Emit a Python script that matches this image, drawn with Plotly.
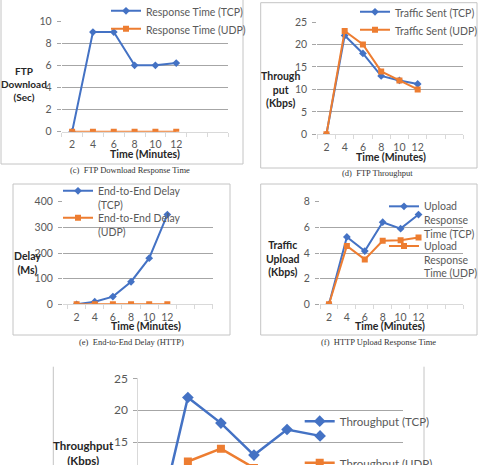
import plotly.graph_objects as go

W, H = 481, 465

# ---------------- data ----------------
minutes = [2, 4, 6, 8, 10, 12]
tick_labels = ["2", "4", "6", "8", "10", "12"]

ftp_resp_tcp = [0, 9, 9, 6, 6, 6.2]
ftp_resp_udp = [0, 0, 0, 0, 0, 0]
ftp_sent_tcp = [0, 22, 18, 13, 12, 11.2]
ftp_sent_udp = [0, 23, 20, 14, 12, 10]
delay_tcp = [0, 10, 30, 88, 180, 350]
delay_udp = [0, 0, 0, 0, 0, 0]
upload_tcp = [0, 5.25, 4.15, 6.4, 5.9, 7.0]
upload_udp = [0, 4.55, 3.5, 4.95, 5.0, 5.2]
thr_tcp = [0, 22, 18, 13, 17, 16]
thr_udp = [0, 12, 14, 11, 10, 10]

names = {
    "c": ["Response Time (TCP)", "Response Time (UDP)"],
    "d": ["Traffic Sent (TCP)", "Traffic Sent (UDP)"],
    "e": ["End-to-End Delay<br>(TCP)", "End-to-End Delay<br>(UDP)"],
    "f": ["Upload<br>Response<br>Time (TCP)", "Upload<br>Response<br>Time (UDP)"],
    "g": ["Throughput (TCP)", "Throughput (UDP)"],
}
captions = {
    "c": "(c)  FTP Download Response Time",
    "d": "(d)  FTP Throughput",
    "e": "(e)  End-to-End Delay (HTTP)",
    "f": "(f)  HTTP Upload Response Time",
}
ytitles = {
    "c": "FTP<br>Download<br>(Sec)",
    "d": "Through<br>put<br>(Kbps)",
    "e": "Delay<br>(Ms)",
    "f": "Traffic<br>Upload<br>(Kbps)",
    "g": "Throughput<br>(Kbps)",
}
xtitle = "Time (Minutes)"

# ---------------- style ----------------
BLUE = "#4472C4"
ORANGE = "#ED7D31"
GRID = "#a6a6a6"
AXLINE = "#d9d9d9"
TXT = "#595959"
TITLE = "#262626"
SANS = "Lato, Roboto, sans-serif"
SERIF = "Liberation Serif, Times New Roman, serif"


def fx(x):
    return x / W


def fy(y):
    return 1 - y / H


# panel geometry in pixels: (x0, x1, ytop, ybottom)
panels = [
    dict(k="c", box=(61.7, 228.3, 21, 131.7), xr=[1, 17], yr=[0, 10], dy=2,
         tcp=ftp_resp_tcp, udp=ftp_resp_udp),
    dict(k="d", box=(317.3, 463.3, 22, 134.3), xr=[1, 17], yr=[0, 25], dy=5,
         tcp=ftp_sent_tcp, udp=ftp_sent_udp),
    dict(k="e", box=(63, 212.7, 201.7, 304.3), xr=[0.5, 17], yr=[0, 400], dy=100,
         tcp=delay_tcp, udp=delay_udp),
    dict(k="f", box=(320, 463.3, 201.7, 304.3), xr=[1, 17], yr=[0, 8], dy=2,
         tcp=upload_tcp, udp=upload_udp),
    dict(k="g", box=(138.3, 402.7, 378.3, 465), xr=[1, 17], yr=[11.45, 25], dy=5,
         tcp=thr_tcp, udp=thr_udp),
]

# legend placement: (text start x, [centre y of each entry])
legend_pos = {
    "c": (148, [12, 30]),
    "d": (397, [13, 31]),
    "e": (100, [198, 225]),
    "f": (426, [220, 259.6]),
    "g": (341.7, [421.7, 463.3]),
}

fig = go.Figure()
layout = dict(
    width=W, height=H,
    margin=dict(l=0, r=0, t=0, b=0, autoexpand=False),
    paper_bgcolor="white", plot_bgcolor="white",
    showlegend=True,
    shapes=[], annotations=[],
)

leg_idx = 0
for i, p in enumerate(panels):
    k = p["k"]
    big = k == "g"
    xa = "x" if i == 0 else f"x{i+1}"
    ya = "y" if i == 0 else f"y{i+1}"
    xk = "xaxis" if i == 0 else f"xaxis{i+1}"
    yk = "yaxis" if i == 0 else f"yaxis{i+1}"
    x0, x1, yt, yb = p["box"]
    fs = 12 if big else 10.5
    lfs = 11.5 if big else 10.5
    lw = 2.5 if big else 2
    for j, (vals, col, sym) in enumerate(
        [(p["tcp"], BLUE, "diamond"), (p["udp"], ORANGE, "square")]
    ):
        leg_idx += 1
        lname = "legend" if leg_idx == 1 else f"legend{leg_idx}"
        fig.add_trace(go.Scatter(
            x=minutes, y=vals, name=names[k][j], mode="lines+markers",
            line=dict(color=col, width=lw),
            marker=dict(symbol=sym, size=(9 if big else 6) if sym == "diamond" else (8 if big else 6),
                        color=col),
            xaxis=xa, yaxis=ya, legend=lname, cliponaxis=True,
        ))
        tx, ys = legend_pos[k]
        layout[lname] = dict(
            x=fx(tx - 42), y=fy(ys[j]), xanchor="left", yanchor="middle",
            xref="paper", yref="paper",
            bgcolor="rgba(0,0,0,0)", borderwidth=0, valign="top",
            font=dict(family=SANS, size=lfs, color=TXT),
            itemwidth=30, tracegroupgap=0,
        )
    layout[xk] = dict(
        domain=[fx(x0), fx(x1)], range=p["xr"], anchor=ya,
        tickmode="array", tickvals=minutes, ticktext=tick_labels,
        ticks="", showgrid=False, zeroline=False,
        showline=not big, linecolor=AXLINE, linewidth=1,
        showticklabels=not big,
        minor=dict(tick0=1, dtick=2, ticks="" if big else "outside", ticklen=4,
                   tickcolor=AXLINE, showgrid=False),
        tickfont=dict(family=SANS, size=fs, color=TXT),
        ticklabelstandoff=3, fixedrange=True,
    )
    layout[yk] = dict(
        domain=[fy(yb), fy(yt)], range=p["yr"], anchor=xa,
        dtick=p["dy"], tick0=0, showgrid=True, gridcolor=GRID, gridwidth=1,
        zeroline=False, showline=big, linecolor=AXLINE,
        ticks="outside", ticklen=4, tickcolor=GRID,
        tickfont=dict(family=SANS, size=fs, color=TXT),
        ticklabelstandoff=3, fixedrange=True,
    )

# chart borders
border = dict(color="#c4c4c4", width=1)
for (bx0, by0, bx1, by1) in [(1, -5, 243, 164), (260.7, 2.7, 477, 168),
                             (13, 184, 230, 335), (260.7, 184, 477, 335)]:
    layout["shapes"].append(dict(type="rect", xref="paper", yref="paper",
                                 x0=fx(bx0), x1=fx(bx1), y0=fy(by1), y1=fy(by0),
                                 line=border, layer="below"))
for bx in (53.3, 424):
    layout["shapes"].append(dict(type="line", xref="paper", yref="paper",
                                 x0=fx(bx), x1=fx(bx), y0=fy(470), y1=fy(366.7),
                                 line=border, layer="below"))

# captions
for k, (cx, cy) in {"c": (130, 170), "d": (377, 173), "e": (131, 342), "f": (378, 342)}.items():
    layout["annotations"].append(dict(
        text=captions[k], x=fx(cx), y=fy(cy), xref="paper", yref="paper",
        xanchor="center", yanchor="middle", showarrow=False,
        font=dict(family=SERIF, size=8.5, color="#333333")))

# axis titles
for k, (cx, cy) in {"c": (145, 154), "d": (390.5, 157), "e": (146, 325.7), "f": (390, 325.7)}.items():
    layout["annotations"].append(dict(
        text="<b>" + xtitle + "</b>", x=fx(cx), y=fy(cy), xref="paper", yref="paper",
        xanchor="center", yanchor="middle", showarrow=False,
        font=dict(family=SANS, size=10.5, color=TITLE)))
for k, (cx, cy, s) in {"c": (24, 84, 10), "d": (280, 89, 10.5), "e": (27, 263, 10.5),
                       "f": (282.7, 258.3, 10.5), "g": (83, 453, 11.5)}.items():
    layout["annotations"].append(dict(
        text="<b>" + ytitles[k] + "</b>", x=fx(cx), y=fy(cy), xref="paper", yref="paper",
        xanchor="center", yanchor="middle", showarrow=False, align="center",
        font=dict(family=SANS, size=s, color=TITLE)))

fig.update_layout(**layout)
fig.write_html("out.html")
